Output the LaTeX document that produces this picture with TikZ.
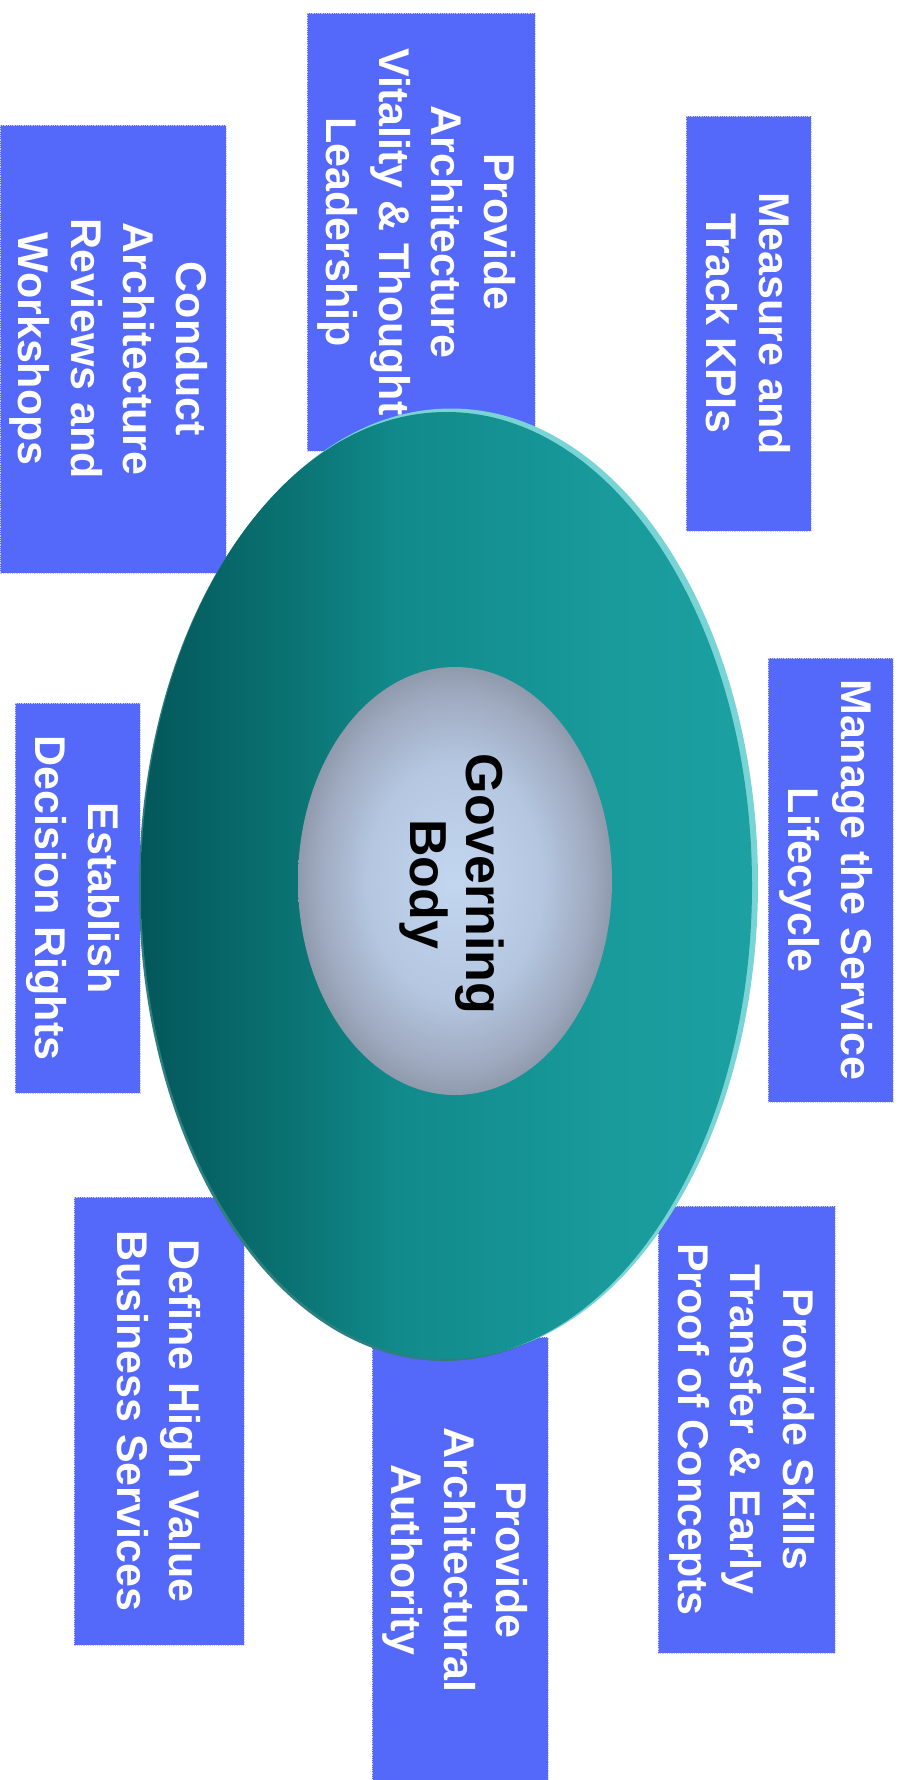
\documentclass[tikz,border=0pt]{standalone}
\usepackage{fontspec}
\setmainfont{Liberation Sans}
\definecolor{boxblue}{RGB}{84,104,250}
\definecolor{boxedge}{RGB}{205,208,228}
\definecolor{tealA}{HTML}{03575A}
\definecolor{tealB}{HTML}{0B7474}
\definecolor{tealC}{HTML}{118A8B}
\definecolor{tealD}{HTML}{199A9B}
\definecolor{tealE}{HTML}{1CA0A1}
\definecolor{rimlight}{HTML}{7AD3D5}
\definecolor{rimdark}{HTML}{2E7F80}
\definecolor{coreA}{HTML}{C3D6EF}
\definecolor{coreB}{HTML}{B4C6E0}
\definecolor{coreC}{HTML}{9EA9BE}
\definecolor{coreD}{HTML}{909AAD}
% left-to-right teal band for the outer ring (25bp..75bp spans the path)
\pgfdeclarehorizontalshading{tealband}{100bp}{color(0bp)=(tealA); color(25bp)=(tealA); color(38bp)=(tealB); color(46bp)=(tealC); color(63bp)=(tealD); color(75bp)=(tealE); color(100bp)=(tealE)}
% soft glow for the inner core
\pgfdeclareradialshading{coreglow}{\pgfpoint{0bp}{0bp}}{color(0bp)=(coreA); color(14bp)=(coreB); color(22bp)=(coreC); color(25bp)=(coreD); color(50bp)=(coreD)}
\begin{document}
\begin{tikzpicture}[x=1pt,y=-1pt,
  taskbox/.style={rotate=-90, fill=boxblue, draw=boxedge, densely dotted,
    line width=0.8pt, text=white, align=center, inner sep=0pt, text depth=0pt,
    font=\fontsize{43}{52.5}\selectfont\bfseries},
  corelabel/.style={rotate=-90, align=center, text=black, inner sep=0pt,
    font=\fontsize{52}{56}\selectfont\bfseries}]
\useasboundingbox (0,0) rectangle (900,1780);

% activity boxes (minimum width runs along the text, i.e. vertically)
\node[taskbox, minimum width=438, minimum height=228] (vitality) at (421,232)
  {Provide\\Architecture\\Vitality \& Thought\\Leadership};
\node[taskbox, minimum width=415, minimum height=125] (kpis) at (748.5,323.5)
  {Measure and\\Track KPIs};
\node[taskbox, minimum width=448, minimum height=226] (reviews) at (113,349)
  {Conduct\\Architecture\\Reviews and\\Workshops};
\node[taskbox, minimum width=444, minimum height=125] (lifecycle) at (830.5,880)
  {Manage the Service\\Lifecycle};
\node[taskbox, minimum width=390, minimum height=125] (rights) at (77.5,898)
  {Establish\\Decision Rights};
\node[taskbox, minimum width=447, minimum height=177] (poc) at (746.5,1429.5)
  {Provide Skills\\Transfer \& Early\\Proof of Concepts};
\node[taskbox, minimum width=446, minimum height=176] (authority) at (460,1560)
  {Provide\\Architectural\\Authority};
\node[taskbox, minimum width=448, minimum height=170] (services) at (159,1421)
  {Define High Value\\Business Services};

% outer ring with its bevelled rim
\fill[rimdark] (444,888) ellipse [x radius=305, y radius=473];
\fill[rimlight] (451,883) ellipse [x radius=307, y radius=474.5];
\shade[shading=tealband] (446.5,885.5) ellipse [x radius=305.5, y radius=473.5];

% inner core
\shade[shading=coreglow] (455,881) ellipse [x radius=157, y radius=214];
\node[corelabel] (core) at (452,884) {Governing\\Body};
\end{tikzpicture}
\end{document}
